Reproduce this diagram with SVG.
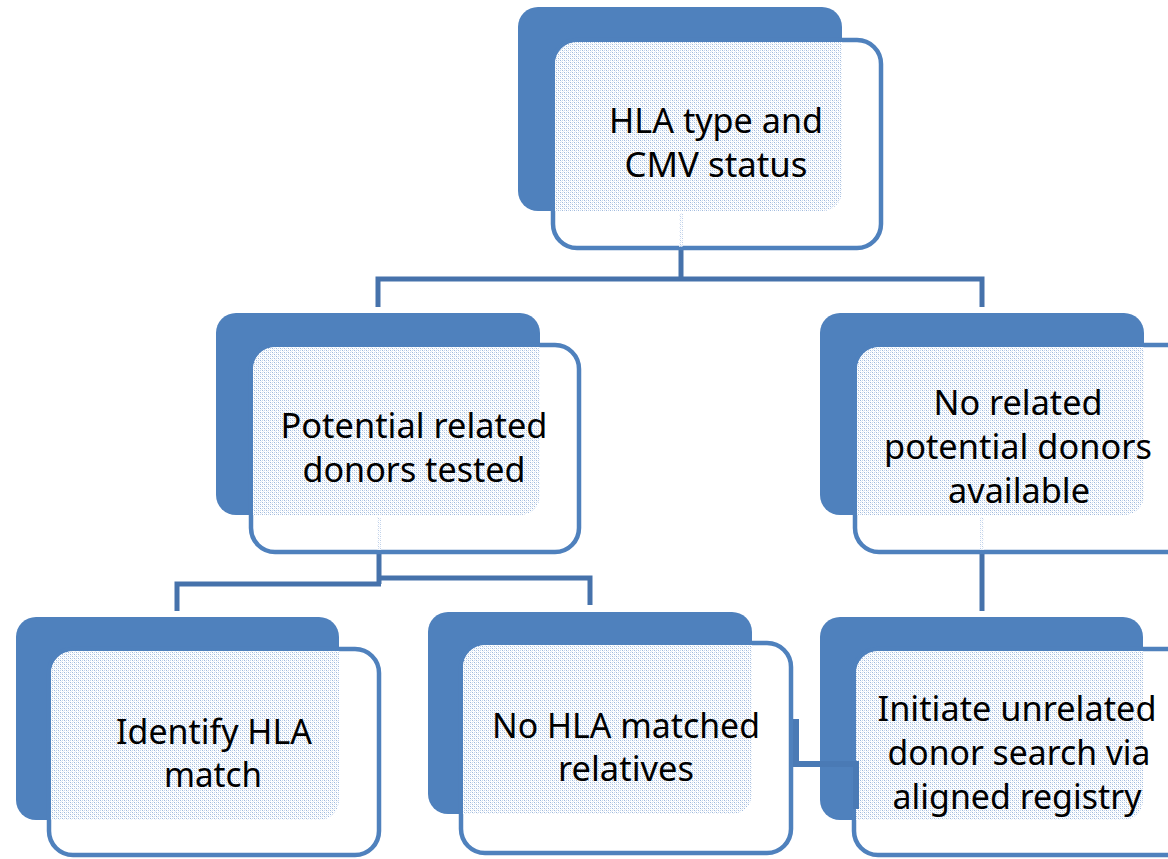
<svg xmlns="http://www.w3.org/2000/svg" width="1168" height="859" viewBox="0 0 1168 859">
<style>
.back{fill:#4f81bd}
.front{fill:#ffffff;stroke:#4f81bd;stroke-width:4.5}
.pat{fill:url(#dots)}
.ghost{fill:url(#dots);opacity:0.7}
.lbl{font-family:"Noto Sans","Open Sans","Liberation Sans",sans-serif;font-size:34px;fill:#000;text-anchor:middle}
.conn{fill:none;stroke:#4672ab;stroke-width:5}
</style>
<defs>
<pattern id="dots" width="4" height="4" patternUnits="userSpaceOnUse">
<rect width="4" height="4" fill="#ffffff"/>
<rect x="0" y="0" width="1" height="1" fill="#9fb9dc"/>
<rect x="2" y="2" width="1" height="1" fill="#9fb9dc"/>
<rect x="2" y="0" width="1" height="1" fill="#c6d6ec"/>
<rect x="0" y="2" width="1" height="1" fill="#c6d6ec"/>
<rect x="1" y="1" width="1" height="1" fill="#e6edf6"/>
<rect x="3" y="3" width="1" height="1" fill="#e6edf6"/>
</pattern>
<clipPath id="c1"><rect x="555" y="42" width="324" height="204" rx="22"/></clipPath>
<clipPath id="c2"><rect x="253" y="347" width="324" height="203" rx="22"/></clipPath>
<clipPath id="c3"><rect x="857" y="347" width="336" height="203" rx="22"/></clipPath>
<clipPath id="c4"><rect x="51" y="651" width="326" height="202" rx="22"/></clipPath>
<clipPath id="c5"><rect x="463" y="645" width="326" height="206" rx="22"/></clipPath>
<clipPath id="c6"><rect x="856" y="651" width="336" height="202" rx="22"/></clipPath>
</defs>

<g id="connectors">
<path class="conn" d="M681,250 V279"/>
<path class="conn" d="M378,307 V279 H982 V307"/>
<path class="conn" d="M379,554 V584"/>
<path class="conn" d="M177,611 V584 H381"/>
<path class="conn" d="M379,578 H590 V605"/>
<path class="conn" d="M982,554 V611"/>
</g>

<g id="node-hla">
<rect class="back" x="518" y="7" width="324" height="204" rx="20"/>
<rect class="front" x="553" y="40" width="328" height="208" rx="24"/>
<rect class="pat" x="518" y="7" width="324" height="204" rx="20" clip-path="url(#c1)"/>
<rect class="ghost" x="679" y="213" width="4" height="34"/>
<text class="lbl" x="716" y="133" textLength="214" lengthAdjust="spacingAndGlyphs">HLA type and</text>
<text class="lbl" x="716" y="177" textLength="183" lengthAdjust="spacingAndGlyphs">CMV status</text>
</g>

<g id="node-related">
<rect class="back" x="216" y="313" width="324" height="202" rx="20"/>
<rect class="front" x="251" y="345" width="328" height="207" rx="24"/>
<rect class="pat" x="216" y="313" width="324" height="202" rx="20" clip-path="url(#c2)"/>
<rect class="ghost" x="377" y="517" width="4" height="33"/>
<text class="lbl" x="414" y="438" textLength="267" lengthAdjust="spacingAndGlyphs">Potential related</text>
<text class="lbl" x="414" y="482" textLength="223" lengthAdjust="spacingAndGlyphs">donors tested</text>
</g>

<g id="node-norelated">
<rect class="back" x="820" y="313" width="324" height="202" rx="20"/>
<rect class="front" x="855" y="345" width="340" height="207" rx="24"/>
<rect class="pat" x="820" y="313" width="324" height="202" rx="20" clip-path="url(#c3)"/>
<rect class="ghost" x="980" y="517" width="4" height="33"/>
<text class="lbl" x="1018" y="415" textLength="169" lengthAdjust="spacingAndGlyphs">No related</text>
<text class="lbl" x="1018" y="459" textLength="268" lengthAdjust="spacingAndGlyphs">potential donors</text>
<text class="lbl" x="1019" y="503" textLength="142" lengthAdjust="spacingAndGlyphs">available</text>
</g>

<g id="node-identify">
<rect class="back" x="16" y="617" width="323" height="203" rx="20"/>
<rect class="front" x="49" y="649" width="330" height="206" rx="24"/>
<rect class="pat" x="16" y="617" width="323" height="203" rx="20" clip-path="url(#c4)"/>
<text class="lbl" x="214" y="744" textLength="196" lengthAdjust="spacingAndGlyphs">Identify HLA</text>
<text class="lbl" x="213" y="787" textLength="98" lengthAdjust="spacingAndGlyphs">match</text>
</g>

<g id="node-nomatch">
<rect class="back" x="428" y="612" width="324" height="202" rx="20"/>
<rect class="front" x="461" y="643" width="330" height="210" rx="24"/>
<rect class="pat" x="428" y="612" width="324" height="202" rx="20" clip-path="url(#c5)"/>
<text class="lbl" x="626" y="738" textLength="268" lengthAdjust="spacingAndGlyphs">No HLA matched</text>
<text class="lbl" x="626" y="781" textLength="136" lengthAdjust="spacingAndGlyphs">relatives</text>
</g>

<g id="node-unrelated">
<rect class="back" x="820" y="617" width="323" height="203" rx="20"/>
<rect class="front" x="854" y="649" width="340" height="206" rx="24"/>
<rect class="pat" x="820" y="617" width="323" height="203" rx="20" clip-path="url(#c6)"/>
<text class="lbl" x="1017" y="721" textLength="279" lengthAdjust="spacingAndGlyphs">Initiate unrelated</text>
<text class="lbl" x="1019" y="765" textLength="263" lengthAdjust="spacingAndGlyphs">donor search via</text>
<text class="lbl" x="1017" y="809" textLength="249" lengthAdjust="spacingAndGlyphs">aligned registry</text>
</g>

<g id="connector-extra">
<path class="conn" style="stroke:#4a7ab5;stroke-width:6" d="M796,719 V764 H856 V809"/>
</g>
</svg>
